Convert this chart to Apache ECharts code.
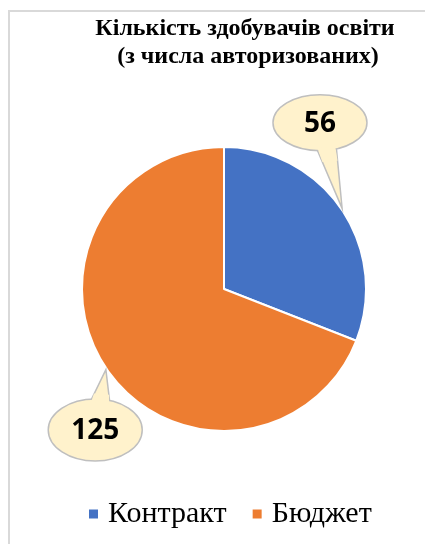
<!DOCTYPE html>
<html>
<head>
<meta charset="utf-8">
<script src="https://cdn.jsdelivr.net/npm/echarts@6/dist/echarts.min.js"></script>
<style>
html, body { margin: 0; padding: 0; background: #fff; }
#pie { width: 425px; height: 544px; }
</style>
</head>
<body>
<div id="pie"></div>
<script>
// дані
var categories = ['Контракт', 'Бюджет'];
var values = [56, 125];
var titleText = 'Кількість здобувачів освіти\n (з числа авторизованих)';

var colors = ['#4472C4', '#ED7D31'];
// callout bubbles: turn from slice middle (deg), distance from centre, ellipse radii
var callouts = [
    {turn: -25.7, dist: 192, rx: 47, ry: 28},
    {turn: -13.3, dist: 191, rx: 47, ry: 31}
];

var frame = {
    id: 'frame',
    type: 'rect',
    shape: {x: 9, y: 11, width: 600, height: 700},
    style: {fill: null, stroke: '#D9D9D9', lineWidth: 2},
    silent: true
};

var pie = echarts.init(document.getElementById('pie'));
pie.setOption({
    animation: false,
    color: colors,
    title: {
        text: titleText,
        left: 240,
        top: 10,
        textAlign: 'center',
        textStyle: {
            fontFamily: 'Liberation Serif',
            fontWeight: 'bold',
            fontSize: 24,
            lineHeight: 28,
            color: '#000'
        }
    },
    legend: {
        data: categories,
        left: 82,
        top: 494,
        icon: 'rect',
        itemWidth: 11,
        itemHeight: 11,
        itemGap: 24,
        selectedMode: false,
        textStyle: {
            fontFamily: 'Liberation Serif',
            fontSize: 30,
            color: '#000',
            padding: [0, 0, 0, 4]
        }
    },
    graphic: {elements: [frame]},
    series: [{
        type: 'pie',
        center: [224, 289],
        radius: 142,
        startAngle: 90,
        clockwise: true,
        silent: true,
        label: {show: false},
        labelLine: {show: false},
        itemStyle: {borderColor: '#fff', borderWidth: 2},
        emphasis: {disabled: true},
        data: categories.map(function (name, i) {
            return {name: name, value: values[i]};
        })
    }]
});

function lerp(p, q, t) {
    return [p[0] + (q[0] - p[0]) * t, p[1] + (q[1] - p[1]) * t];
}
function pull(p, q, px) {
    // move p towards q by px pixels
    var dx = q[0] - p[0], dy = q[1] - p[1];
    var len = Math.sqrt(dx * dx + dy * dy) || 1;
    return [p[0] + dx / len * px, p[1] + dy / len * px];
}

// speech bubbles, placed from the pie's own layout
function drawCallouts() {
    var data = pie.getModel().getSeriesByIndex(0).getData();
    var els = [frame];
    data.each(function (idx) {
        var l = data.getItemLayout(idx);
        var mid = (l.startAngle + l.endAngle) / 2;
        var tip = [l.cx + (l.r + 1) * Math.cos(mid), l.cy + (l.r + 1) * Math.sin(mid)];
        var c = callouts[idx];
        var a = mid + c.turn * Math.PI / 180;
        var ctr = [l.cx + c.dist * Math.cos(a), l.cy + c.dist * Math.sin(a)];
        var th = Math.atan2((tip[1] - ctr[1]) / c.ry, (tip[0] - ctr[0]) / c.rx);
        var d = 0.24;
        var p1 = [ctr[0] + c.rx * Math.cos(th + d), ctr[1] + c.ry * Math.sin(th + d)];
        var p2 = [ctr[0] + c.rx * Math.cos(th - d), ctr[1] + c.ry * Math.sin(th - d)];
        var style = {fill: '#FFF2CC', stroke: '#BFBFBF', lineWidth: 1.5};

        // tail
        els.push({
            id: 'tail' + idx, type: 'polygon', z: 10, silent: true,
            shape: {points: [lerp(p1, ctr, 0.1), tip, lerp(p2, ctr, 0.1)]},
            style: style
        });
        // body
        els.push({
            id: 'body' + idx, type: 'ellipse', z: 11, silent: true,
            shape: {cx: ctr[0], cy: ctr[1], rx: c.rx, ry: c.ry},
            style: style
        });
        // open the join between tail and body
        var s1 = lerp(p1, ctr, 0.08), s2 = lerp(p2, ctr, 0.08);
        var o1 = lerp(p1, tip, 0.2), o2 = lerp(p2, tip, 0.2);
        els.push({
            id: 'join' + idx, type: 'polygon', z: 12, silent: true,
            shape: {points: [pull(s1, s2, 1.3), pull(o1, o2, 1.3), pull(o2, o1, 1.3), pull(s2, s1, 1.3)]},
            style: {fill: '#FFF2CC', stroke: null}
        });
        els.push({
            id: 'val' + idx, type: 'text', z: 13, silent: true,
            x: ctr[0],
            y: ctr[1] + 1,
            style: {
                text: String(values[idx]),
                align: 'center',
                verticalAlign: 'middle',
                font: 'bold 28px "Open Sans"',
                fill: '#000'
            }
        });
    });
    pie.setOption({graphic: {elements: els}});
}
drawCallouts();
</script>
</body>
</html>
